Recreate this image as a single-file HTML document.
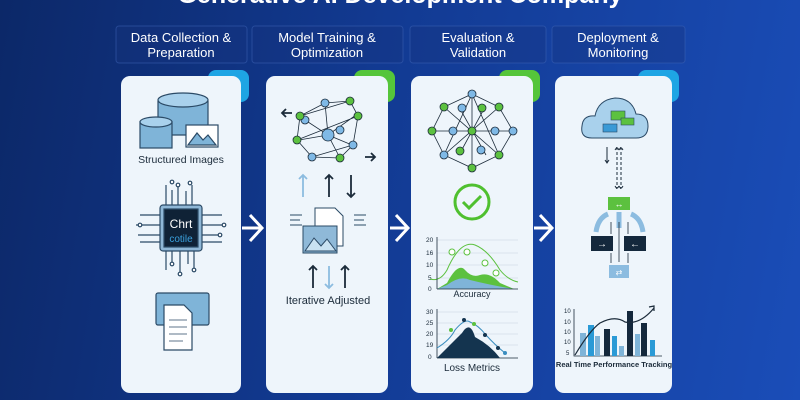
<!DOCTYPE html>
<html><head><meta charset="utf-8"><style>
html,body{margin:0;padding:0;width:800px;height:400px;overflow:hidden}
body{background:linear-gradient(100deg,#0c2868 0%,#123a92 45%,#1a4db8 100%);font-family:"Liberation Sans",sans-serif}
</style></head><body>
<svg width="800" height="400" viewBox="0 0 800 400" xmlns="http://www.w3.org/2000/svg" font-family="Liberation Sans, sans-serif">
<text x="400" y="3" text-anchor="middle" fill="#fff" font-size="25" font-weight="bold">Generative AI Development Company</text>
<g fill="#16357f" fill-opacity="0.35" stroke="#3d63b5" stroke-opacity="0.5">
<rect x="116" y="26" width="131" height="37" rx="3"/><rect x="252" y="26" width="151" height="37" rx="3"/>
<rect x="410" y="26" width="136" height="37" rx="3"/><rect x="552" y="26" width="133" height="37" rx="3"/></g>
<g fill="#fff" font-size="13" text-anchor="middle">
<text x="181" y="42">Data Collection &amp;</text><text x="181" y="57">Preparation</text>
<text x="327" y="42">Model Training &amp;</text><text x="327" y="57">Optimization</text>
<text x="478" y="42">Evaluation &amp;</text><text x="478" y="57">Validation</text>
<text x="618" y="42">Deployment &amp;</text><text x="618" y="57">Monitoring</text></g>
<rect x="208" y="70" width="41" height="32" rx="8" fill="#1ea5e4"/>
<rect x="354" y="70" width="41" height="32" rx="8" fill="#55c53a"/>
<rect x="499" y="70" width="41" height="32" rx="8" fill="#55c53a"/>
<rect x="638" y="70" width="41" height="32" rx="8" fill="#1ea5e4"/>
<g fill="#eef5fb">
<rect x="121" y="76" width="120" height="317" rx="9"/><rect x="266" y="76" width="122" height="317" rx="9"/>
<rect x="411" y="76" width="122" height="317" rx="9"/><rect x="555" y="76" width="117" height="317" rx="9"/></g>
<g stroke="#fff" stroke-width="3" fill="none">
<path d="M242 228h18M250 215l12 13-12 13"/><path d="M390 228h16M396 215l12 13-12 13"/><path d="M534 228h16M540 215l12 13-12 13"/></g>
<!-- card1 -->
<g stroke="#2b4a66" stroke-width="1.2">
<rect x="158" y="97" width="50" height="38" rx="4" fill="#7fb4d8"/><ellipse cx="183" cy="100" rx="25" ry="7" fill="#a9d1ec"/>
<rect x="140" y="122" width="32" height="26" fill="#7fb4d8"/><ellipse cx="156" cy="122" rx="16" ry="5" fill="#a9d1ec"/>
<rect x="186" y="125" width="32" height="22" fill="#fff"/><path d="M188 145l9-12 6 7 5-5 8 10z" fill="#7fb4d8"/>
<path d="M166 205v-20M172 205v-15M178 205v-18M186 205v-14M192 205v-20M166 250v20M172 250v12M180 250v22M188 250v14M194 250v18M140 215h20M136 225h24M138 235h22M140 242h20M202 215h20M202 225h24M202 235h18M202 242h20" fill="none"/>
<g fill="#fff"><circle cx="172" cy="182" r="1.8"/><circle cx="178" cy="185" r="1.8"/><circle cx="190" cy="183" r="1.8"/><circle cx="140" cy="225" r="1.8"/><circle cx="224" cy="225" r="1.8"/><circle cx="220" cy="235" r="1.8"/><circle cx="180" cy="274" r="1.8"/><circle cx="172" cy="264" r="1.8"/><circle cx="194" cy="270" r="1.8"/></g>
<rect x="160" y="205" width="42" height="46" rx="3" fill="#8fb7d6"/><rect x="164" y="209" width="34" height="38" fill="#0f2236"/>
<rect x="156" y="293" width="53" height="32" rx="2" fill="#7fb4d8"/><path d="M164 305h20l8 8v37h-28z" fill="#fff"/>
<path d="M169 320h18M169 327h18M169 334h18M169 341h14" fill="none" stroke-width="0.8"/></g>
<text x="181" y="163" text-anchor="middle" font-size="10.5" fill="#1b2b3a">Structured Images</text>
<text x="181" y="228" text-anchor="middle" font-size="12" fill="#fff">Chrt</text>
<text x="181" y="242" text-anchor="middle" font-size="10" fill="#3aa0dc">cotile</text>
<!-- card2 -->
<g stroke="#1b2b3a" stroke-width="0.8">
<path d="M325 103L350 101L358 116L353 145L340 158L312 157L297 140L300 116Z M325 103L328 135L340 158M300 116L350 101M297 140L358 116M312 157L353 145M328 135L299 140M328 135L356 115M328 135L352 145M328 135L305 120" fill="none"/>
<g fill="#7fb9e6"><circle cx="325" cy="103" r="4"/><circle cx="328" cy="135" r="6"/><circle cx="312" cy="157" r="4"/><circle cx="305" cy="120" r="4"/><circle cx="353" cy="145" r="4"/><circle cx="340" cy="130" r="4"/></g>
<g fill="#5cc13f"><circle cx="350" cy="101" r="4"/><circle cx="358" cy="116" r="4"/><circle cx="297" cy="140" r="4"/><circle cx="340" cy="158" r="4"/><circle cx="300" cy="116" r="4"/></g></g>
<g stroke="#1b2b3a" stroke-width="1.8" fill="none">
<path d="M292 113h-10M286 109l-4 4 4 4M365 157h10M371 153l4 4-4 4M329 175v22M325 179l4-4 4 4M351 175v22M347 193l4 4 4-4M313 266v22M309 270l4-4 4 4M345 266v22M341 270l4-4 4 4"/>
<path d="M303 175v22M299 179l4-4 4 4M329 266v22M325 284l4 4 4-4" stroke="#8cbce0"/></g>
<g stroke="#2b4a66" stroke-width="1"><path d="M315 208h20l8 8v30h-28z" fill="#fff"/><rect x="303" y="226" width="34" height="27" fill="#8fb9d8"/><path d="M305 251l9-13 7 8 6-7 9 12z" fill="#c9e2f2"/>
<path d="M290 215h12M290 220h10M290 225h12M354 215h12M354 220h10M354 225h12" fill="none"/></g>
<text x="328" y="304" text-anchor="middle" font-size="11" fill="#1b2b3a">Iterative Adjusted</text>
<!-- card3 -->
<g stroke="#1b2b3a" stroke-width="0.8" fill="none">
<path d="M472 94L499 107L513 131L499 155L472 168L444 155L432 131L444 107Z M432 131H513M472 94V168M444 107L499 155M499 107L444 155M472 94L444 155M472 94L499 155M459 107L486 155M485 107L459 155"/></g>
<g stroke="#1b2b3a" stroke-width="0.8">
<g fill="#5cc13f"><circle cx="472" cy="168" r="4"/><circle cx="499" cy="107" r="4"/><circle cx="444" cy="107" r="4"/><circle cx="432" cy="131" r="4"/><circle cx="472" cy="131" r="4"/><circle cx="499" cy="155" r="4"/><circle cx="460" cy="151" r="4"/><circle cx="482" cy="108" r="4"/></g>
<g fill="#7fb9e6"><circle cx="472" cy="94" r="4"/><circle cx="513" cy="131" r="4"/><circle cx="444" cy="155" r="4"/><circle cx="462" cy="108" r="4"/><circle cx="495" cy="131" r="4"/><circle cx="453" cy="131" r="4"/><circle cx="481" cy="150" r="4"/></g></g>
<circle cx="472" cy="202" r="17" fill="none" stroke="#4fc02f" stroke-width="3"/><path d="M463 202l6 6 12-12" stroke="#4fc02f" stroke-width="3" fill="none"/>
<g font-size="6.5" fill="#1b2b3a"><text x="426" y="242">20</text><text x="426" y="255">16</text><text x="426" y="267">10</text><text x="428" y="280">5</text><text x="428" y="291">0</text>
<text x="426" y="314">30</text><text x="426" y="325">25</text><text x="426" y="336">20</text><text x="426" y="347">19</text><text x="428" y="359">0</text></g>
<g stroke="#c8d4de" stroke-width="0.6"><path d="M437 240H518M437 253H518M437 265H518M437 278H518M437 312H518M437 323H518M437 334H518M437 345H518"/></g>
<path d="M437 289L447 283Q458 262 465 270Q472 278 480 275Q490 272 500 283L514 289Z" fill="#5cc13f"/>
<path d="M437 289L447 285Q460 275 470 280Q490 285 514 289Z" fill="#7fb4d8"/>
<path d="M430 279Q440 282 447 270Q460 240 475 245Q488 250 500 270Q508 280 518 282" stroke="#5cc13f" fill="none" stroke-width="1"/>
<g fill="#fff" stroke="#5cc13f"><circle cx="452" cy="252" r="3"/><circle cx="467" cy="252" r="3"/><circle cx="485" cy="263" r="3"/><circle cx="496" cy="273" r="3"/></g>
<path d="M437 289H518M437 237V289M437 358H518M437 309V358" stroke="#1b2b3a" stroke-width="0.8"/>
<path d="M437 358Q455 340 462 333Q470 320 475 337Q490 345 500 358Z" fill="#14344f"/>
<path d="M437 348Q450 340 455 330Q465 318 470 322Q478 325 486 335Q495 345 505 353" stroke="#3a8dbf" fill="none"/>
<g><circle cx="451" cy="330" r="2" fill="#5cc13f"/><circle cx="464" cy="320" r="2" fill="#14344f"/><circle cx="474" cy="324" r="2" fill="#5cc13f"/><circle cx="485" cy="335" r="2" fill="#14344f"/><circle cx="498" cy="348" r="2" fill="#14344f"/><circle cx="505" cy="353" r="2" fill="#3a8dbf"/></g>
<text x="472" y="297" text-anchor="middle" font-size="9" fill="#1b2b3a">Accuracy</text>
<text x="472" y="371" text-anchor="middle" font-size="10" fill="#1b2b3a">Loss Metrics</text>
<!-- card4 -->
<path d="M592 138Q580 138 582 126Q583 115 595 116Q598 100 615 98Q632 98 636 114Q648 114 648 126Q648 138 636 138Z" fill="#a9d1ec" stroke="#2b4a66"/>
<rect x="611" y="111" width="14" height="9" fill="#5cc13f" stroke="#2b4a66" stroke-width="0.6"/><rect x="621" y="118" width="13" height="7" fill="#5cc13f" stroke="#2b4a66" stroke-width="0.6"/><rect x="603" y="124" width="14" height="8" fill="#3a9ad6" stroke="#2b4a66" stroke-width="0.6"/>
<g stroke="#1b2b3a" stroke-width="1" fill="none"><path d="M607 147v16M605 160l2 3 2-3"/><path d="M617 147v42M621 147v42M615 150l2-3 2 3M619 150l2-3 2 3M615 186l2 3 2-3M619 186l2 3 2-3" stroke-dasharray="3 2"/></g>
<rect x="608" y="197" width="22" height="13" fill="#5cc13f"/><text x="619" y="207" text-anchor="middle" font-size="9" fill="#fff">↔</text>
<path d="M596 232Q598 218 608 214M643 232Q641 218 631 214M619 228V212" stroke="#8cbce0" stroke-width="5" fill="none"/>
<rect x="591" y="236" width="22" height="15" fill="#14283c"/><rect x="624" y="236" width="22" height="15" fill="#14283c"/>
<text x="602" y="247" text-anchor="middle" font-size="10" fill="#fff">→</text><text x="635" y="247" text-anchor="middle" font-size="10" fill="#fff">←</text>
<path d="M611 222v12M628 222v12M619 222v40M611 253v10M628 253v10" stroke="#1b2b3a" stroke-width="0.8"/>
<rect x="609" y="265" width="20" height="13" fill="#8cbce0"/><text x="619" y="275" text-anchor="middle" font-size="8" fill="#fff">⇄</text>
<g font-size="6" fill="#1b2b3a"><text x="564" y="313">10</text><text x="564" y="324">10</text><text x="564" y="334">10</text><text x="564" y="344">10</text><text x="566" y="355">5</text></g>
<path d="M574 309V356H662" stroke="#1b2b3a" stroke-width="0.8" fill="none"/>
<g><rect x="580" y="333" width="6" height="23" fill="#7fb4d8"/><rect x="588" y="325" width="6" height="31" fill="#2a9ad6"/><rect x="595" y="336" width="5" height="20" fill="#7fb4d8"/><rect x="604" y="329" width="6" height="27" fill="#14283c"/><rect x="612" y="336" width="5" height="20" fill="#2a9ad6"/><rect x="619" y="346" width="5" height="10" fill="#7fb4d8"/><rect x="627" y="311" width="6" height="45" fill="#14283c"/><rect x="635" y="334" width="5" height="22" fill="#7fb4d8"/><rect x="641" y="323" width="6" height="33" fill="#14283c"/><rect x="650" y="340" width="5" height="16" fill="#2a9ad6"/></g>
<path d="M575 355Q590 330 600 323Q615 315 625 322Q640 325 654 308" stroke="#1b2b3a" stroke-width="1.2" fill="none"/><path d="M649 307l5-1 0 5" stroke="#1b2b3a" stroke-width="1.2" fill="none"/>
<text x="614" y="367" text-anchor="middle" font-size="7.5" fill="#1b2b3a" font-weight="bold">Real Time Performance Tracking</text>
</svg>
</body></html>
